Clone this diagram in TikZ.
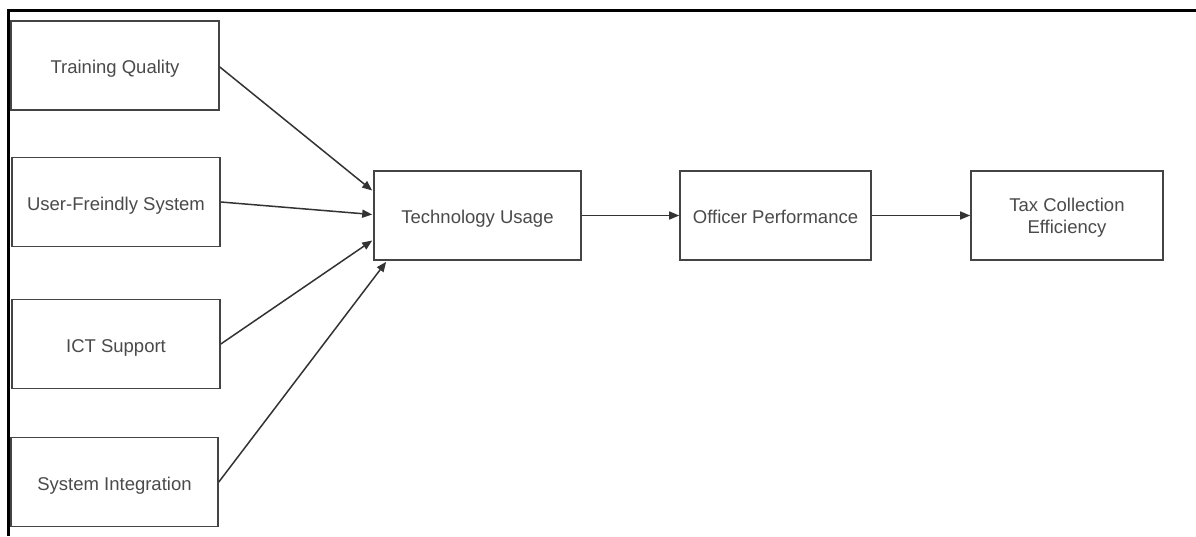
\documentclass[tikz,border=0pt]{standalone}
\usepackage{fontspec}
\setmainfont{Liberation Sans}
\usetikzlibrary{arrows.meta,calc}
\definecolor{boxcol}{HTML}{444444}
\definecolor{txtcol}{HTML}{4A4A4A}
\definecolor{arrcol}{HTML}{333333}
\tikzset{
  box/.style={draw=boxcol, line width=1.6pt, fill=white, text=txtcol,
    minimum height=89pt, inner sep=2pt, align=center,
    text height=16pt, text depth=0pt,
    font=\fontsize{18.5}{22}\selectfont},
  conn/.style={draw=arrcol, line width=1.5pt,
    -{Triangle[length=10pt,width=8pt]}}
}
\begin{document}
\begin{tikzpicture}[x=1pt,y=-1pt]
\useasboundingbox (0,0) rectangle (1196,536);
\fill[white] (0,0) rectangle (1196,536);
% outer frame (top and left edges)
\draw[line width=3pt, black] (1196,10) -- (8.5,10) -- (8.5,536);
% nodes
\node[box, minimum width=208pt] (tq) at (115,65.5) {Training Quality};
\node[box, minimum width=208pt] (uf) at (116,202) {User-Freindly System};
\node[box, minimum width=208pt] (ict) at (116,344) {ICT Support};
\node[box, minimum width=207pt] (si) at (114.5,482) {System Integration};
\node[box, minimum width=207pt] (tu) at (477.5,215.5) {Technology Usage};
\node[box, minimum width=191pt] (op) at (775.5,215.5) {Officer Performance};
\node[box, minimum width=192pt, text height=36pt] (tc) at (1067,215.5) {Tax Collection\\Efficiency};
% connectors
\draw[conn] ($(tq.east)+(0,1.5)$) -- ($(tu.west)+(-1,-25)$);
\draw[conn] (uf.east) -- ($(tu.west)+(-1,-1)$);
\draw[conn] (ict.east) -- ($(tu.west)+(-1,25)$);
\draw[conn] (si.east) -- ($(tu.south west)+(13,1)$);
\draw[conn] (tu.east) -- (op.west);
\draw[conn] (op.east) -- (tc.west);
\end{tikzpicture}
\end{document}
